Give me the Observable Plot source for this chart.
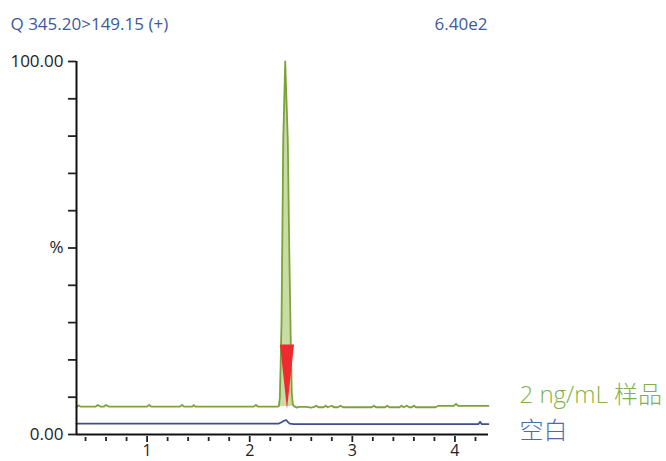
<!DOCTYPE html>
<html>
<head>
<meta charset="utf-8">
<script src="https://cdn.jsdelivr.net/npm/d3@7"></script>
<script src="https://cdn.jsdelivr.net/npm/@observablehq/plot@0.6"></script>
<style>
  html, body { margin: 0; padding: 0; background: #fff; }
  #chart svg { display: block; }
</style>
</head>
<body>
<div id="chart"></div>
<script>
// ---- data ----
const sampleTime = [0.312,0.33,0.35,0.50,0.52,0.545,0.58,0.60,0.625,1.00,1.02,1.04,1.32,1.34,1.36,1.44,1.455,1.47,2.04,2.06,2.08,2.27,
  2.284,2.294,2.300,2.310,2.317,2.327,2.346,2.371,2.385,2.400,2.410,2.420,2.430,
  2.46,2.48,2.55,2.60,2.63,2.65,2.67,2.72,2.74,2.76,2.80,2.82,2.86,2.885,2.91,3.19,3.21,3.23,3.32,3.34,3.36,3.46,3.48,3.50,3.53,3.555,3.58,3.60,3.62,3.81,3.84,3.99,4.01,4.03,4.327];
const sampleValue = [7.3,7.8,7.5,7.5,7.9,7.5,7.5,7.9,7.5,7.5,7.9,7.5,7.5,7.9,7.5,7.5,7.9,7.5,7.5,7.9,7.5,7.5,
  7.6,10,17,30,50,79,100,79,50,25,11,8.2,7.6,
  7.2,7.4,7.4,7.2,7.4,7.7,7.3,7.3,7.7,7.3,7.7,7.3,7.3,7.7,7.3,7.3,7.7,7.3,7.3,7.7,7.3,7.3,7.7,7.3,7.7,7.3,7.3,7.7,7.3,7.3,7.7,7.7,8.2,7.7,7.7];

const blankTime  = [0.312,2.28,2.31,2.33,2.355,2.37,2.39,2.43,4.23,4.245,4.26,4.327];
const blankValue = [2.9,2.9,3.3,3.6,3.9,3.4,2.9,2.8,2.8,3.4,2.8,2.8];

// integrated peak region (shaded)
const peakTime  = [2.284,2.294,2.300,2.310,2.317,2.327,2.346,2.371,2.385,2.400,2.410,2.420,2.430];
const peakValue = [7.6,10,17,30,50,79,100,79,50,25,11,8.2,7.6];
const peakBase  = 7.5;

// retention-time marker (red triangle)
const markerTime   = [2.300, 2.368, 2.437];
const markerTop    = [24, 24, 24];
const markerBottom = [24, 6.7, 24];

const xDomain = [0.312, 4.327];
const yTicks = d3.range(0, 101, 10);
const xMinorTicks = d3.range(0.4, 4.3, 0.2).map(d => +d.toFixed(1));
const xMajorTicks = [1, 2, 3, 4];

const titleLeft = "Q 345.20>149.15 (+)";
const titleRight = "6.40e2";
const sampleLabel = "2 ng/mL 样品";
const blankLabel = "空白";

const sample = sampleTime.map((t, i) => ({t, v: sampleValue[i]}));
const blank = blankTime.map((t, i) => ({t, v: blankValue[i]}));
const peak = peakTime.map((t, i) => ({t, v: peakValue[i], b: peakBase}));
const marker = markerTime.map((t, i) => ({t, top: markerTop[i], bot: markerBottom[i]}));

const font = "'Open Sans', 'Noto Sans', 'Noto Sans CJK SC', sans-serif";
const green = "#7ba33a";
const blue = "#3b4f8f";

const chart = Plot.plot({
  width: 666,
  height: 461,
  marginLeft: 76,
  marginRight: 178,
  marginTop: 61,
  marginBottom: 27,
  style: {fontFamily: font, background: "#fff", color: "#222"},
  x: {domain: xDomain},
  y: {domain: [0, 100]},
  marks: [
    Plot.areaY(peak, {x: "t", y1: "b", y2: "v", fill: "#c9dca6", curve: "linear"}),
    Plot.line(sample, {x: "t", y: "v", stroke: green, strokeWidth: 1.8, curve: "linear"}),
    Plot.line(blank, {x: "t", y: "v", stroke: blue, strokeWidth: 1.7, curve: "linear"}),
    Plot.areaY(marker, {x: "t", y1: "top", y2: "bot", fill: "#ee2b2e", curve: "linear"}),
    Plot.ruleY([0], {stroke: "#111", strokeWidth: 2}),
    Plot.ruleX([xDomain[0]], {y1: 0, y2: 100, stroke: "#111", strokeWidth: 2}),
    Plot.axisY({ticks: yTicks, tickSize: 8, tickPadding: 5, strokeWidth: 1.8,
      tickFormat: d => d === 100 ? "100.00" : d === 0 ? "0.00" : d === 50 ? "%" : "",
      label: null, fontSize: 17, fill: "#222"}),
    Plot.axisX({ticks: xMinorTicks.filter(d => !xMajorTicks.includes(d)), tickSize: 4, dy: 3,
      tickFormat: () => "", label: null, strokeWidth: 1.8}),
    Plot.axisX({ticks: xMajorTicks, tickSize: 6, dy: 2, tickPadding: 2,
      tickFormat: d => String(d), label: null, fontSize: 16, fill: "#222", strokeWidth: 1.8}),
    Plot.text([titleLeft], {frameAnchor: "top-left", dx: -66, dy: -44, textAnchor: "start",
      fill: "#3d5a9a", fontSize: 17}),
    Plot.text([titleRight], {frameAnchor: "top-right", dx: -1, dy: -44, textAnchor: "end",
      fill: "#3d5a9a", fontSize: 17}),
    Plot.text([sampleLabel], {frameAnchor: "bottom-right", dx: 31, dy: -32, textAnchor: "start",
      fill: "#7fb24a", fontSize: 24, fontWeight: 300}),
    Plot.text([blankLabel], {frameAnchor: "bottom-right", dx: 31, dy: 4, textAnchor: "start",
      fill: "#4a6db0", fontSize: 24, fontWeight: 300})
  ]
});
document.getElementById("chart").appendChild(chart);
</script>
</body>
</html>
